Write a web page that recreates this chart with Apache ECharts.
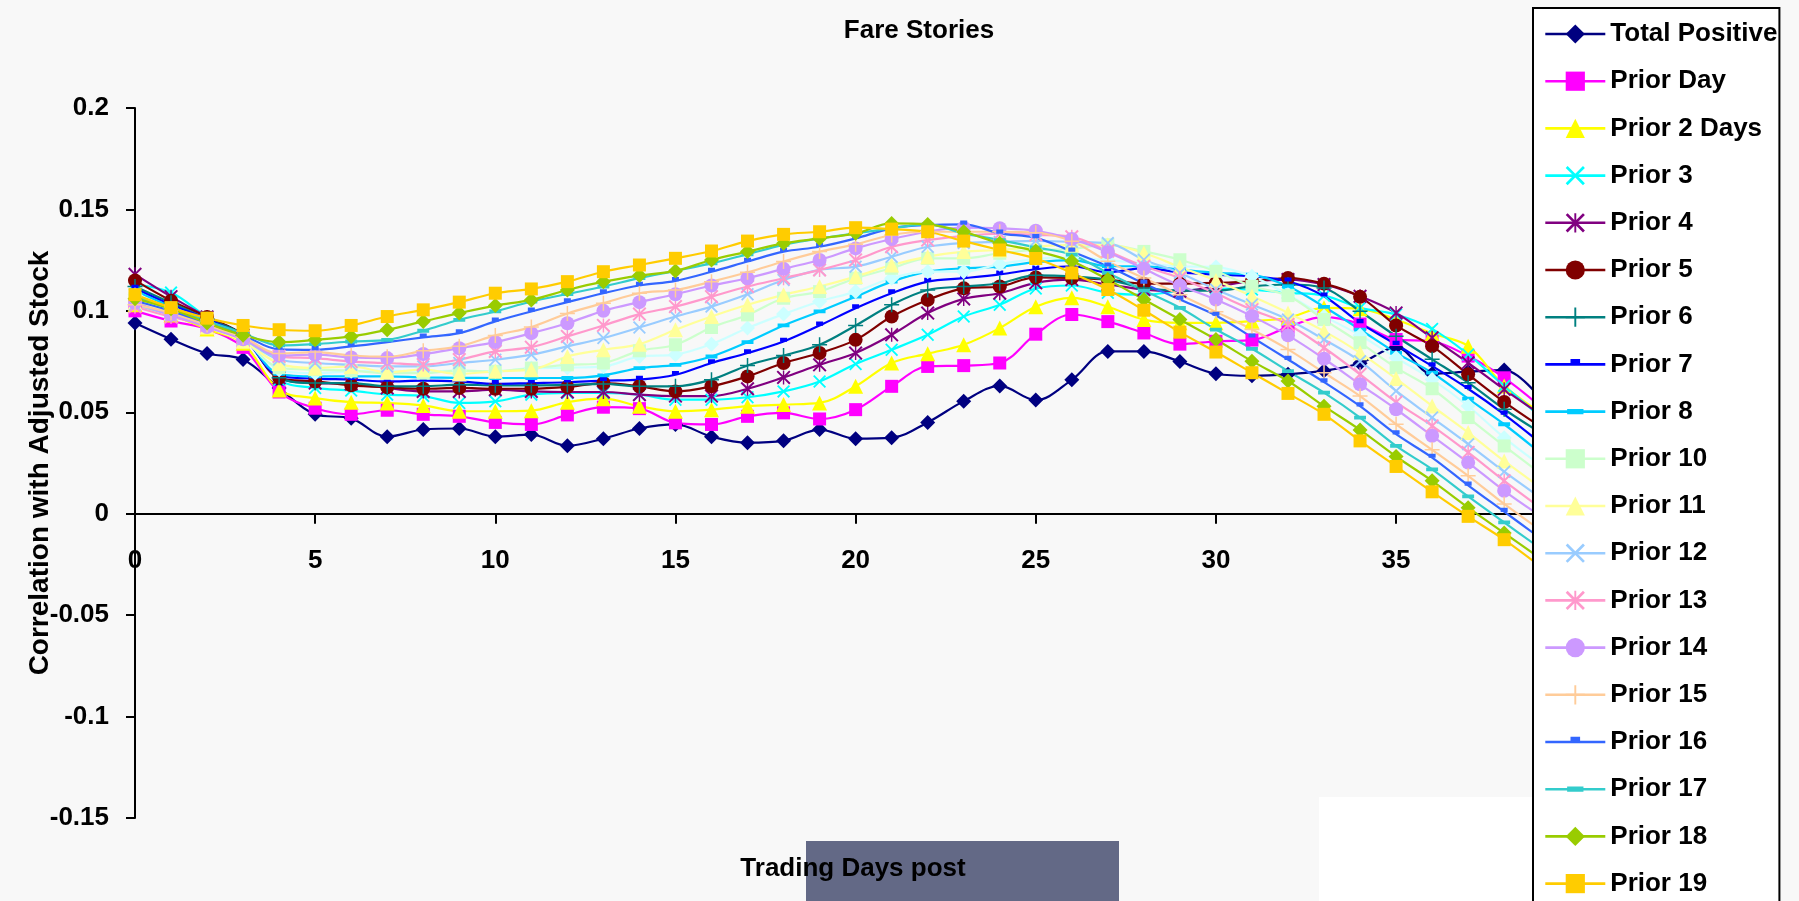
<!DOCTYPE html>
<html>
<head>
<meta charset="utf-8">
<script src="https://cdn.jsdelivr.net/npm/echarts@6/dist/echarts.min.js"></script>
<style>
html,body{margin:0;padding:0;background:#f8f8f8;}
#chart{width:1799px;height:901px;}
</style>
</head>
<body>
<div id="chart"></div>
<script>
const days = [0,1,2,3,4,5,6,7,8,9,10,11,12,13,14,15,16,17,18,19,20,21,22,23,24,25,26,27,28,29,30,31,32,33,34,35,36,37,38,39];
const xTickLabels = ['0','5','10','15','20','25','30','35'];
const yTickLabels = ['-0.15','-0.1','-0.05','0','0.05','0.1','0.15','0.2'];

const totalPositive = [0.094,0.086,0.079,0.076,0.062,0.049,0.047,0.038,0.0415,0.042,0.038,0.039,0.0335,0.037,0.042,0.044,0.038,0.035,0.036,0.0415,0.037,0.0375,0.045,0.0555,0.063,0.056,0.066,0.080,0.080,0.075,0.069,0.068,0.0687,0.0705,0.0742,0.082,0.069,0.0700,0.0708,0.057];
const priorDay = [0.100,0.095,0.091,0.082,0.060,0.052,0.049,0.051,0.049,0.048,0.045,0.044,0.0487,0.0525,0.0518,0.0448,0.044,0.048,0.0497,0.0467,0.0513,0.0628,0.0726,0.073,0.0743,0.0885,0.0982,0.0947,0.0891,0.0836,0.0850,0.0856,0.092,0.097,0.0935,0.0859,0.085,0.0777,0.067,0.053];
const prior2 = [0.103,0.098,0.091,0.084,0.061,0.057,0.055,0.0546,0.0534,0.0505,0.0505,0.0508,0.055,0.0567,0.053,0.0505,0.0513,0.053,0.0538,0.0546,0.0628,0.0743,0.0789,0.0833,0.0915,0.102,0.1064,0.102,0.0957,0.0941,0.0941,0.0949,0.0966,0.1015,0.101,0.0957,0.0888,0.0826,0.063,0.050];
const prior3 = [0.113,0.109,0.097,0.088,0.066,0.062,0.0607,0.0587,0.058,0.0546,0.0554,0.0587,0.0595,0.0595,0.0587,0.0562,0.0562,0.0574,0.0603,0.0652,0.0738,0.0808,0.0882,0.0972,0.103,0.111,0.1125,0.1089,0.108,0.1097,0.111,0.1105,0.1089,0.1075,0.1015,0.0982,0.0911,0.0785,0.063,0.048];
const prior4 = [0.118,0.107,0.097,0.088,0.067,0.0644,0.064,0.062,0.0603,0.0603,0.0611,0.0603,0.060,0.060,0.0587,0.058,0.058,0.0616,0.0672,0.0734,0.0792,0.0882,0.0989,0.1059,0.1087,0.1138,0.1154,0.113,0.1105,0.1097,0.112,0.1146,0.1154,0.113,0.1072,0.099,0.0867,0.0744,0.0613,0.049];
const prior5 = [0.115,0.105,0.097,0.088,0.067,0.0652,0.0633,0.0623,0.0616,0.062,0.0616,0.0616,0.0625,0.0644,0.0628,0.0603,0.0628,0.0677,0.0743,0.0792,0.0857,0.0972,0.1054,0.1111,0.112,0.1165,0.1162,0.1154,0.1134,0.1134,0.1138,0.1146,0.1162,0.1134,0.1069,0.0928,0.0826,0.0687,0.0551,0.043];
const prior6 = [0.112,0.104,0.096,0.088,0.067,0.0644,0.0644,0.0628,0.0628,0.0636,0.0633,0.0633,0.0635,0.064,0.0628,0.0628,0.0661,0.0731,0.078,0.0833,0.0928,0.103,0.1103,0.112,0.1136,0.1175,0.117,0.1154,0.1113,0.110,0.110,0.1121,0.113,0.1113,0.0998,0.0875,0.0761,0.0646,0.0515,0.040];
const prior7 = [0.111,0.103,0.096,0.087,0.068,0.0666,0.0661,0.0652,0.0656,0.0652,0.064,0.0644,0.0648,0.0656,0.0661,0.0685,0.0743,0.0792,0.0849,0.0928,0.1013,0.1087,0.1144,0.1161,0.118,0.1205,0.122,0.119,0.1211,0.119,0.1179,0.117,0.1146,0.1072,0.0941,0.0834,0.0728,0.0616,0.049,0.035];
const prior8 = [0.110,0.102,0.095,0.087,0.069,0.0677,0.0677,0.0677,0.0672,0.067,0.0669,0.0669,0.0669,0.0682,0.0718,0.0734,0.0775,0.0846,0.0928,0.0997,0.107,0.1144,0.1193,0.121,0.1218,0.124,0.125,0.122,0.122,0.1203,0.1187,0.1179,0.1121,0.102,0.0908,0.0793,0.0695,0.0567,0.0441,0.030];
const prior9 = [0.108,0.101,0.094,0.086,0.071,0.0693,0.0702,0.0705,0.0702,0.0705,0.0702,0.0718,0.072,0.0726,0.0775,0.0784,0.0836,0.0915,0.0984,0.1046,0.1095,0.1161,0.1193,0.1193,0.123,0.1255,0.1262,0.125,0.1234,0.122,0.1216,0.117,0.108,0.0974,0.088,0.0769,0.0662,0.0531,0.0375,0.024];
const prior10 = [0.106,0.100,0.093,0.086,0.072,0.071,0.0705,0.0693,0.0693,0.0705,0.0702,0.0718,0.0734,0.0743,0.0803,0.0833,0.0918,0.098,0.1062,0.1095,0.1161,0.121,0.1259,0.1259,0.1284,0.130,0.1305,0.1326,0.1293,0.1252,0.1195,0.1121,0.1075,0.0957,0.0843,0.072,0.0616,0.0474,0.0334,0.020];
const prior11 = [0.104,0.099,0.092,0.085,0.074,0.0718,0.0726,0.0698,0.071,0.0689,0.0702,0.071,0.0775,0.0808,0.0836,0.0907,0.0972,0.103,0.1079,0.112,0.1169,0.1226,0.1267,0.1292,0.130,0.1316,0.1325,0.1326,0.1285,0.1216,0.115,0.1072,0.099,0.090,0.0793,0.0666,0.0531,0.040,0.026,0.013];
const prior12 = [0.103,0.098,0.093,0.086,0.076,0.0743,0.0734,0.0726,0.0726,0.0743,0.0759,0.0784,0.0825,0.0866,0.0918,0.0972,0.1021,0.1082,0.1152,0.1202,0.1218,0.1267,0.1316,0.1335,0.134,0.1345,0.134,0.1334,0.1252,0.1187,0.1105,0.1031,0.0957,0.0859,0.0752,0.0605,0.0474,0.0343,0.0207,0.008];
const prior13 = [0.102,0.097,0.093,0.087,0.0776,0.0767,0.075,0.0743,0.0735,0.076,0.080,0.0821,0.0874,0.0928,0.0984,0.1021,0.107,0.112,0.1161,0.1202,0.1251,0.1316,0.1349,0.137,0.138,0.1375,0.1365,0.1295,0.122,0.1162,0.1085,0.1006,0.0933,0.0818,0.0687,0.055,0.0433,0.0302,0.0162,0.003];
const prior14 = [0.104,0.098,0.092,0.086,0.078,0.0784,0.077,0.0767,0.0787,0.0816,0.0846,0.089,0.0939,0.100,0.1043,0.1082,0.1125,0.1161,0.1207,0.1251,0.1308,0.1354,0.139,0.141,0.1407,0.1395,0.1354,0.1289,0.1207,0.1125,0.1056,0.0974,0.0879,0.0764,0.0638,0.0515,0.0384,0.0252,0.0113,-0.001];
const prior15 = [0.103,0.099,0.093,0.087,0.079,0.0797,0.078,0.0774,0.0803,0.0825,0.0879,0.092,0.0987,0.1038,0.1087,0.1103,0.1144,0.119,0.1243,0.1292,0.1328,0.1374,0.139,0.139,0.139,0.1385,0.1343,0.1244,0.1162,0.108,0.0995,0.0908,0.081,0.0695,0.058,0.0441,0.0315,0.0187,0.0048,-0.008];
const prior16 = [0.105,0.100,0.094,0.088,0.081,0.0808,0.0825,0.0846,0.0869,0.089,0.0948,0.0997,0.1043,0.1087,0.1125,0.1148,0.1193,0.1243,0.1292,0.1316,0.1357,0.1407,0.1423,0.1426,0.1382,0.136,0.1293,0.122,0.1135,0.1056,0.0977,0.087,0.076,0.0649,0.053,0.0392,0.0277,0.014,0.001,-0.012];
const prior17 = [0.107,0.101,0.095,0.089,0.083,0.0836,0.0849,0.0857,0.0902,0.0956,0.0997,0.1046,0.1083,0.112,0.1161,0.1197,0.1234,0.1279,0.1325,0.1357,0.1382,0.1407,0.1426,0.1382,0.1349,0.1313,0.1277,0.1187,0.110,0.1015,0.0908,0.0813,0.0703,0.0597,0.0474,0.0334,0.0219,0.0085,-0.0043,-0.017];
const prior18 = [0.106,0.101,0.094,0.088,0.0846,0.0857,0.0874,0.0907,0.0948,0.0989,0.1026,0.1054,0.1103,0.1144,0.1174,0.1197,0.1251,0.1292,0.1333,0.1357,0.1382,0.1431,0.1426,0.139,0.1333,0.1295,0.1244,0.1154,0.1056,0.0957,0.0859,0.0752,0.0654,0.053,0.0413,0.0282,0.0162,0.003,-0.0095,-0.022];
const prior19 = [0.108,0.1016,0.0964,0.0928,0.0907,0.0902,0.0928,0.0972,0.1005,0.1043,0.1087,0.1108,0.1144,0.1193,0.1226,0.1259,0.1295,0.1344,0.1377,0.139,0.141,0.1403,0.139,0.1344,0.130,0.1258,0.1187,0.1105,0.1003,0.0895,0.0797,0.0695,0.0593,0.049,0.0359,0.0233,0.0108,-0.0013,-0.0128,-0.026];

const names = ['Total Positive','Prior Day','Prior 2 Days','Prior 3','Prior 4','Prior 5','Prior 6','Prior 7','Prior 8','Prior 9','Prior 10','Prior 11','Prior 12','Prior 13','Prior 14','Prior 15','Prior 16','Prior 17','Prior 18','Prior 19'];
const values = [totalPositive,priorDay,prior2,prior3,prior4,prior5,prior6,prior7,prior8,prior9,prior10,prior11,prior12,prior13,prior14,prior15,prior16,prior17,prior18,prior19];
const colors = ['#000080','#FF00FF','#FFFF00','#00FFFF','#800080','#800000','#008080','#0000FF','#00CCFF','#CCFFFF','#CCFFCC','#FFFF99','#99CCFF','#FF99CC','#CC99FF','#FFCC99','#3366FF','#33CCCC','#99CC00','#FFCC00'];

const X_SYM = 'path://M2,0 L10,8 L18,0 L20,2 L12,10 L20,18 L18,20 L10,12 L2,20 L0,18 L8,10 L0,2 Z';
const STAR_SYM = 'path://M2,0 L10,8 L18,0 L20,2 L12,10 L20,18 L18,20 L10,12 L2,20 L0,18 L8,10 L0,2 Z M9,0 L11,0 L11,20 L9,20 Z';
const PLUS_SYM = 'path://M9,0 L11,0 L11,9 L20,9 L20,11 L11,11 L11,20 L9,20 L9,11 L0,11 L0,9 L9,9 Z';
const SDASH_SYM = 'path://M0,0 L0.01,0 L0.01,0.01 Z M20,20 L19.99,20 L19.99,19.99 Z M5,4.5 L15,4.5 L15,10.5 L5,10.5 Z';
const LDASH_SYM = 'path://M0,0 L0.01,0 L0.01,0.01 Z M20,20 L19.99,20 L19.99,19.99 Z M1.5,7.3 L18.5,7.3 L18.5,12.7 L1.5,12.7 Z';

const symbolCycle = [['diamond',15],['rect',13],['triangle',15],[X_SYM,13],[STAR_SYM,14],['circle',14],[PLUS_SYM,15],[SDASH_SYM,14],[LDASH_SYM,14]];

const series = names.map((n, i) => {
  const s = symbolCycle[i % 9];
  return {
    name: n,
    type: 'line',
    data: days.map((d, k) => [d, values[i][k]]),
    smooth: 0.35,
    symbol: s[0],
    symbolSize: s[1],
    showAllSymbol: true,
    color: colors[i],
    lineStyle: {width: 2.2, color: colors[i]},
    itemStyle: {color: colors[i]},
    emphasis: {disabled: true},
    clip: true
  };
});

const FONT = '"Liberation Sans", Arial, sans-serif';
const Y0 = 108, H = 710, YMAX = 0.2, YMIN = -0.15;
const zeroOffset = -(H * (0 - YMIN) / (YMAX - YMIN));

const chart = echarts.init(document.getElementById('chart'), null, {renderer: 'canvas'});
chart.setOption({
  backgroundColor: '#f8f8f8',
  animation: false,
  grid: {left: 135, top: Y0, width: 1398, height: H, containLabel: false},
  xAxis: {
    type: 'value', min: 0, max: 38.8, interval: 5,
    offset: zeroOffset,
    axisLine: {onZero: false, lineStyle: {color: '#000', width: 2}},
    axisTick: {show: true, length: 10, lineStyle: {color: '#000', width: 2}},
    splitLine: {show: false},
    axisLabel: {
      margin: 34, color: '#000', fontSize: 26, fontWeight: 'bold', fontFamily: FONT,
      formatter: v => { const t = String(v); return xTickLabels.indexOf(t) >= 0 ? t : ''; }
    }
  },
  yAxis: {
    type: 'value', min: YMIN, max: YMAX, interval: 0.05,
    name: 'Correlation with Adjusted Stock', nameLocation: 'middle', nameGap: 81, nameRotate: 90,
    nameMoveOverlap: false,
    nameTextStyle: {color: '#000', fontSize: 28, fontWeight: 'bold', fontFamily: FONT},
    axisLine: {show: true, lineStyle: {color: '#000', width: 2}},
    axisTick: {show: true, length: 9, lineStyle: {color: '#000', width: 2}},
    splitLine: {show: false},
    axisLabel: {
      margin: 26, color: '#000', fontSize: 26, fontWeight: 'bold', fontFamily: FONT,
      formatter: v => { const i = Math.round((v - YMIN) / 0.05); return yTickLabels[i] !== undefined ? yTickLabels[i] : ''; }
    }
  },
  legend: {
    orient: 'vertical', left: 1533, top: 8, height: 1000,
    padding: [13, 2, 13, 11],
    itemWidth: 60, itemHeight: 24, itemGap: 21.2,
    backgroundColor: '#ffffff', borderColor: '#000', borderWidth: 2,
    lineStyle: {width: 2.6},
    data: names.filter(n => n !== 'Prior 9'),
    textStyle: {color: '#000', fontSize: 26, fontWeight: 'bold', fontFamily: FONT},
    selectedMode: false
  },
  graphic: [
    {type: 'rect', z: 0, shape: {x: 1319, y: 797, width: 214, height: 104}, style: {fill: '#ffffff'}},
    {type: 'rect', z: 100, shape: {x: 806, y: 841, width: 313, height: 60}, style: {fill: '#636986'}},
    {type: 'text', z: 101, x: 853, y: 869, style: {text: 'Trading Days post', fill: '#000', font: 'bold 26px ' + FONT, align: 'center', verticalAlign: 'middle', textAlign: 'center', textVerticalAlign: 'middle'}},
    {type: 'text', z: 101, x: 919, y: 31, style: {text: 'Fare Stories', fill: '#000', font: 'bold 26px ' + FONT, align: 'center', verticalAlign: 'middle', textAlign: 'center', textVerticalAlign: 'middle'}}
  ],
  series: series
});
</script>
</body>
</html>
